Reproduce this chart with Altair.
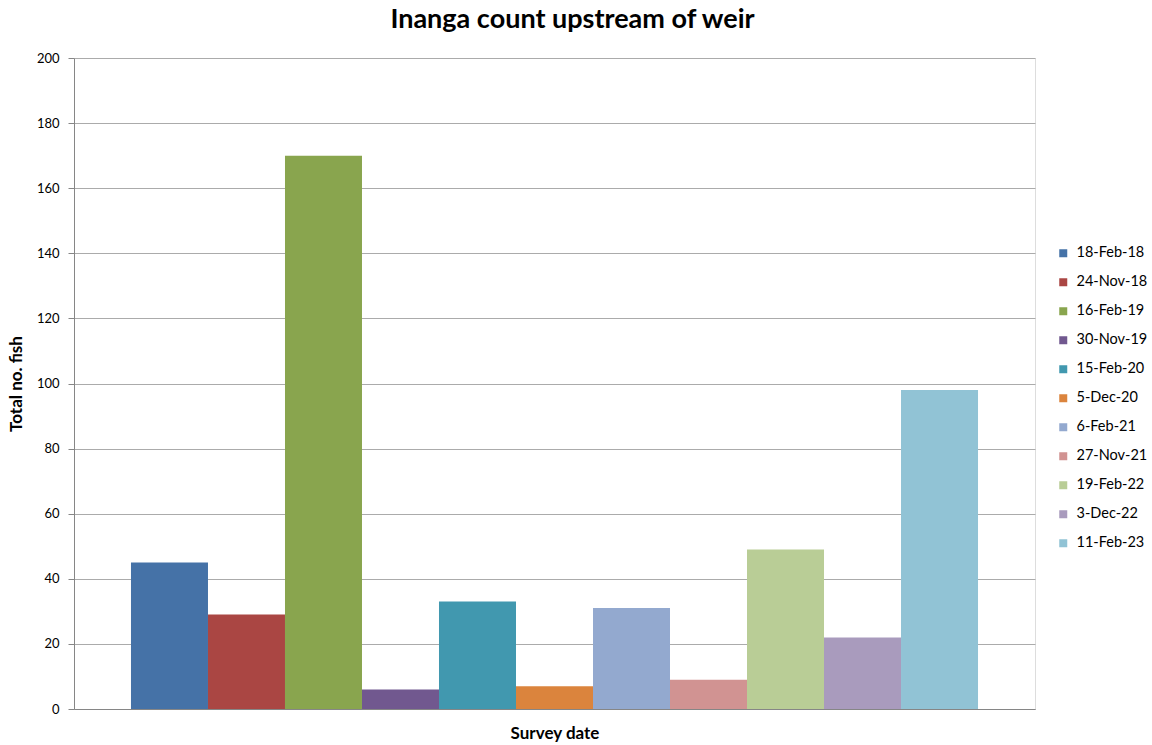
import altair as alt
import pandas as pd

# Survey dates and inanga counts above the weir
survey_dates = ["18-Feb-18", "24-Nov-18", "16-Feb-19", "30-Nov-19", "15-Feb-20",
                "5-Dec-20", "6-Feb-21", "27-Nov-21", "19-Feb-22", "3-Dec-22", "11-Feb-23"]
fish_counts = [45, 29, 170, 6, 33, 7, 31, 9, 49, 22, 98]
bar_colors = ["#4572A7", "#AA4643", "#89A54E", "#71588F", "#4198AF", "#DB843D",
              "#93A9CF", "#D19392", "#B9CD96", "#A99BBD", "#91C3D5"]
y_ticks = list(range(0, 201, 20))

df = pd.DataFrame({"date": survey_dates, "count": fish_counts})

FONT = "Lato"

chart = alt.Chart(df).mark_bar().encode(
    x=alt.X(
        "date:N",
        sort=survey_dates,
        scale=alt.Scale(paddingInner=0, paddingOuter=0.74),
        axis=alt.Axis(
            title="Survey date", labels=False, ticks=False,
            domainColor="#868686", titleFontSize=17, titleFontWeight="bold",
            titleColor="#000000", titlePadding=16, titleFont=FONT,
        ),
    ),
    y=alt.Y(
        "count:Q",
        scale=alt.Scale(domain=[0, 200], nice=False),
        axis=alt.Axis(
            title="Total no. fish", values=y_ticks, tickSize=6,
            tickColor="#868686", domainColor="#868686",
            gridColor="#ababab", labelFontSize=13, labelColor="#000000",
            labelPadding=9, labelFont=FONT,
            titleFontSize=17, titleFontWeight="bold", titleColor="#000000",
            titlePadding=11, titleFont=FONT,
        ),
    ),
    color=alt.Color(
        "date:N",
        sort=survey_dates,
        scale=alt.Scale(domain=survey_dates, range=bar_colors),
        legend=alt.Legend(
            title=None, orient="none", legendX=982, legendY=188,
            symbolType="square", symbolSize=64, symbolStrokeWidth=0,
            labelFontSize=14.5, labelColor="#000000", labelFont=FONT,
            rowPadding=14, labelOffset=6,
        ),
    ),
).properties(
    width=961,
    height=651,
    autosize=alt.AutoSizeParams(type="none"),
    padding={"left": 74, "top": 58, "right": 117, "bottom": 36},
    title=alt.Title(
        "Inanga count upstream of weir", fontSize=27, fontWeight="bold",
        font=FONT, color="#000000", anchor="middle", offset=18, dx=18,
    ),
).configure_view(stroke=None).configure(background="#ffffff")

chart.save("out.html", embed_options={"renderer": "svg", "actions": False})
